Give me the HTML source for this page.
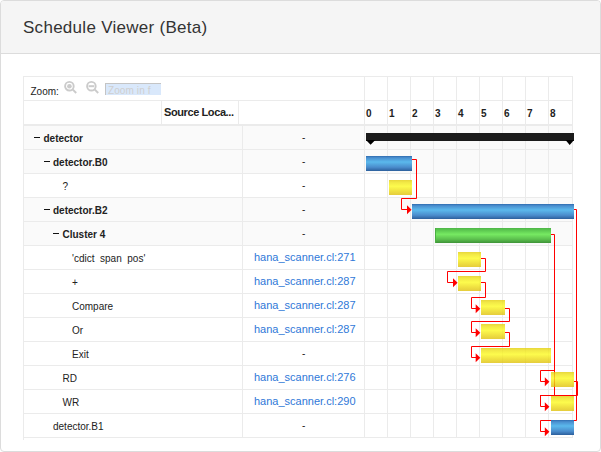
<!DOCTYPE html><html><head><meta charset="utf-8"><style>
*{box-sizing:border-box;margin:0;padding:0}
html,body{width:601px;height:452px;overflow:hidden;background:#fff;font-family:"Liberation Sans",sans-serif}
.a{position:absolute}
.panel{left:0;top:0;width:601px;height:452px;border:1px solid #dcdcdc;border-radius:4px;overflow:hidden}
.hdr{left:0;top:0;width:599px;height:53px;background:#f5f5f5;border-bottom:1px solid #dcdcdc}
.title{left:22px;top:16px;font-size:17px;color:#333;white-space:nowrap;line-height:20px}
.hl{height:1px;background:#ebebeb}
.vl{width:1px;background:#ebebeb}
.t{white-space:pre;font-size:10px;color:#222;line-height:12px}
.b{font-weight:bold}
.lnk{color:#2f78d8;font-size:11px}
.bar{height:15px}
.blue{background:linear-gradient(#2f6cae,#4a8fd0 12%,#5bb9ec 40%,#4a8ccc 75%,#2c5f9c)}
.yellow{background:linear-gradient(#e2cc0a,#eee218 15%,#fcfa20 42%,#ebd812 75%,#dfc00c);opacity:.8}
.green{background:linear-gradient(#4eb548,#5cc850 15%,#76e962 42%,#5cbf4e 75%,#3e9438);border-left:1px solid #4aae42}
</style></head><body>
<div class="a panel"><div class="a hdr" style="left:0;top:0;width:599px;height:53px"></div></div>
<div class="a title" style="top:18px;left:23px;letter-spacing:0.28px">Schedule Viewer (Beta)</div>
<div class="a" style="left:24px;top:126px;width:549px;height:23px;background:#fafafa"></div>
<div class="a" style="left:24px;top:150px;width:549px;height:23px;background:#fafafa"></div>
<div class="a" style="left:24px;top:198px;width:549px;height:23px;background:#fafafa"></div>
<div class="a" style="left:24px;top:222px;width:549px;height:23px;background:#fafafa"></div>
<div class="a vl" style="left:23px;top:76px;height:364px"></div>
<div class="a hl" style="left:23px;top:76px;width:550px"></div>
<div class="a vl" style="left:572px;top:76px;height:362px"></div>
<div class="a hl" style="left:23px;top:100px;width:550px"></div>
<div class="a hl" style="left:23px;top:124px;width:550px;height:2px"></div>
<div class="a hl" style="left:23px;top:149px;width:550px"></div>
<div class="a hl" style="left:23px;top:173px;width:550px"></div>
<div class="a hl" style="left:23px;top:197px;width:550px"></div>
<div class="a hl" style="left:23px;top:221px;width:550px"></div>
<div class="a hl" style="left:23px;top:245px;width:550px"></div>
<div class="a hl" style="left:23px;top:269px;width:550px"></div>
<div class="a hl" style="left:23px;top:293px;width:550px"></div>
<div class="a hl" style="left:23px;top:317px;width:550px"></div>
<div class="a hl" style="left:23px;top:341px;width:550px"></div>
<div class="a hl" style="left:23px;top:365px;width:550px"></div>
<div class="a hl" style="left:23px;top:389px;width:550px"></div>
<div class="a hl" style="left:23px;top:413px;width:550px"></div>
<div class="a hl" style="left:23px;top:437px;width:550px"></div>
<div class="a vl" style="left:161px;top:100px;height:25px"></div>
<div class="a vl" style="left:238px;top:100px;height:25px"></div>
<div class="a vl" style="left:242px;top:125px;height:313px"></div>
<div class="a vl" style="left:364px;top:76px;height:362px"></div>
<div class="a vl" style="left:387px;top:76px;height:362px"></div>
<div class="a vl" style="left:410px;top:76px;height:362px"></div>
<div class="a vl" style="left:433px;top:76px;height:362px"></div>
<div class="a vl" style="left:456px;top:76px;height:362px"></div>
<div class="a vl" style="left:479px;top:76px;height:362px"></div>
<div class="a vl" style="left:502px;top:76px;height:362px"></div>
<div class="a vl" style="left:525px;top:76px;height:362px"></div>
<div class="a vl" style="left:548px;top:76px;height:362px"></div>
<div class="a vl" style="left:572px;top:76px;height:362px"></div>
<div class="a t" style="left:30.5px;top:85.5px;color:#222;letter-spacing:0px;font-size:10px">Zoom:</div>
<svg class="a" style="left:62px;top:79px" width="40" height="17" viewBox="0 0 40 17">
<g fill="none" stroke="#cbcbcb" stroke-width="1.9"><circle cx="7.4" cy="7.2" r="4.3"/><path d="M10.6 10.4 L14.2 14"/>
<circle cx="29.4" cy="7.2" r="4.3"/><path d="M32.6 10.4 L36.2 14"/></g>
<circle cx="7.4" cy="7.2" r="2.3" fill="#cbcbcb"/><rect x="26.6" y="6.2" width="5.6" height="2" fill="#cbcbcb"/></svg>
<div class="a" style="left:105px;top:83px;width:56px;height:12px;background:#d9e8fb;border-top:1px solid #c4c4c4;border-left:1px solid #c4c4c4"></div>
<div class="a t" style="left:108px;top:85px;color:#cfcfcf;letter-spacing:0.1px">Zoom in f</div>
<div class="a t b" style="left:164px;top:106px;font-size:11px;letter-spacing:-0.4px">Source Loca...</div>
<div class="a t b" style="left:366px;top:108px">0</div>
<div class="a t b" style="left:389px;top:108px">1</div>
<div class="a t b" style="left:412px;top:108px">2</div>
<div class="a t b" style="left:435px;top:108px">3</div>
<div class="a t b" style="left:458px;top:108px">4</div>
<div class="a t b" style="left:481px;top:108px">5</div>
<div class="a t b" style="left:504px;top:108px">6</div>
<div class="a t b" style="left:527px;top:108px">7</div>
<div class="a t b" style="left:550px;top:108px">8</div>
<div class="a" style="left:34.0px;top:137px;width:6px;height:1px;background:#111"></div>
<div class="a t b" style="left:43.5px;top:133px">detector</div>
<div class="a t" style="left:302px;top:132px">-</div>
<div class="a" style="left:43.5px;top:161px;width:6px;height:1px;background:#111"></div>
<div class="a t b" style="left:53.0px;top:157px">detector.B0</div>
<div class="a t" style="left:302px;top:156px">-</div>
<div class="a t" style="left:62.5px;top:181px">?</div>
<div class="a t" style="left:302px;top:180px">-</div>
<div class="a" style="left:43.5px;top:209px;width:6px;height:1px;background:#111"></div>
<div class="a t b" style="left:53.0px;top:205px">detector.B2</div>
<div class="a t" style="left:302px;top:204px">-</div>
<div class="a" style="left:53.0px;top:233px;width:6px;height:1px;background:#111"></div>
<div class="a t b" style="left:62.5px;top:229px">Cluster 4</div>
<div class="a t" style="left:302px;top:228px">-</div>
<div class="a t" style="left:72.0px;top:253px">'cdict  span  pos'</div>
<div class="a t lnk" style="left:254px;top:251px">hana_scanner.cl:271</div>
<div class="a t" style="left:72.0px;top:277px">+</div>
<div class="a t lnk" style="left:254px;top:275px">hana_scanner.cl:287</div>
<div class="a t" style="left:72.0px;top:301px">Compare</div>
<div class="a t lnk" style="left:254px;top:299px">hana_scanner.cl:287</div>
<div class="a t" style="left:72.0px;top:325px">Or</div>
<div class="a t lnk" style="left:254px;top:323px">hana_scanner.cl:287</div>
<div class="a t" style="left:72.0px;top:349px">Exit</div>
<div class="a t" style="left:302px;top:348px">-</div>
<div class="a t" style="left:62.5px;top:373px">RD</div>
<div class="a t lnk" style="left:254px;top:371px">hana_scanner.cl:276</div>
<div class="a t" style="left:62.5px;top:397px">WR</div>
<div class="a t lnk" style="left:254px;top:395px">hana_scanner.cl:290</div>
<div class="a t" style="left:53.0px;top:421px">detector.B1</div>
<div class="a t" style="left:302px;top:420px">-</div>
<svg class="a" style="left:0;top:0" width="601" height="452">
<path d="M412.5 159.5 L416.5 159.5 L416.5 198.5 L401.5 198.5 L401.5 209.5 L407.5 209.5" fill="none" stroke="#ff0000" stroke-width="1" stroke-linecap="square"/>
<path d="M407.0 205.25 L411.6 209.75 L407.0 214.25 Z" fill="#ff0000"/>
<path d="M481.5 258.5 L485.5 258.5 L485.5 271.5 L447.5 271.5 L447.5 282.5 L453.5 282.5" fill="none" stroke="#ff0000" stroke-width="1" stroke-linecap="square"/>
<path d="M453.0 278.25 L457.6 282.75 L453.0 287.25 Z" fill="#ff0000"/>
<path d="M481.5 282.5 L485.5 282.5 L485.5 297.5 L471.5 297.5 L471.5 308.5 L476.5 308.5" fill="none" stroke="#ff0000" stroke-width="1" stroke-linecap="square"/>
<path d="M475.7 304.25 L480.3 308.75 L475.7 313.25 Z" fill="#ff0000"/>
<path d="M505.5 308.5 L509.5 308.5 L509.5 321.5 L471.5 321.5 L471.5 332.5 L476.5 332.5" fill="none" stroke="#ff0000" stroke-width="1" stroke-linecap="square"/>
<path d="M475.7 328.25 L480.3 332.75 L475.7 337.25 Z" fill="#ff0000"/>
<path d="M505.5 332.5 L509.5 332.5 L509.5 346.5 L471.5 346.5 L471.5 357.5 L476.5 357.5" fill="none" stroke="#ff0000" stroke-width="1" stroke-linecap="square"/>
<path d="M475.7 353.25 L480.3 357.75 L475.7 362.25 Z" fill="#ff0000"/>
<path d="M551.5 234.5 L554.5 234.5 L554.5 370.5 L540.5 370.5 L540.5 381.5 L545.5 381.5" fill="none" stroke="#ff0000" stroke-width="1" stroke-linecap="square"/>
<path d="M544.8 377.25 L549.4 381.75 L544.8 386.25 Z" fill="#ff0000"/>
<path d="M554.5 370.5 L554.5 395.5 L540.5 395.5 L540.5 406.5 L545.5 406.5" fill="none" stroke="#ff0000" stroke-width="1" stroke-linecap="square"/>
<path d="M544.8 402.25 L549.4 406.75 L544.8 411.25 Z" fill="#ff0000"/>
<path d="M574.5 381.5 L577.5 381.5 L577.5 395.5 L540.5 395.5" fill="none" stroke="#ff0000" stroke-width="1" stroke-linecap="square"/>
<path d="M574.5 209.5 L576.5 209.5 L576.5 420.5 L540.5 420.5 L540.5 431.5 L545.5 431.5" fill="none" stroke="#ff0000" stroke-width="1" stroke-linecap="square"/>
<path d="M544.8 427.25 L549.4 431.75 L544.8 436.25 Z" fill="#ff0000"/>
</svg>
<div class="a" style="left:366px;top:133px;width:208px;height:8px;background:#1b1b1b"></div>
<svg class="a" style="left:365px;top:140px" width="210" height="6"><path d="M1 0 L10.3 0 L5.6 4.8 Z M200.5 0 L209 0 L204.7 5 Z" fill="#000"/></svg>
<div class="a bar blue" style="left:366px;top:156px;width:46px"></div>
<div class="a bar yellow" style="left:389px;top:180px;width:23px"></div>
<div class="a bar blue" style="left:412px;top:204px;width:162px"></div>
<div class="a bar green" style="left:435px;top:228px;width:116px"></div>
<div class="a bar yellow" style="left:458px;top:252px;width:23px"></div>
<div class="a bar yellow" style="left:458px;top:276px;width:23px"></div>
<div class="a bar yellow" style="left:481px;top:300px;width:24px"></div>
<div class="a bar yellow" style="left:481px;top:324px;width:24px"></div>
<div class="a bar yellow" style="left:481px;top:348px;width:70px"></div>
<div class="a bar yellow" style="left:551px;top:372px;width:23px"></div>
<div class="a bar yellow" style="left:551px;top:396px;width:23px"></div>
<div class="a bar blue" style="left:551px;top:420px;width:23px"></div>
</body></html>
